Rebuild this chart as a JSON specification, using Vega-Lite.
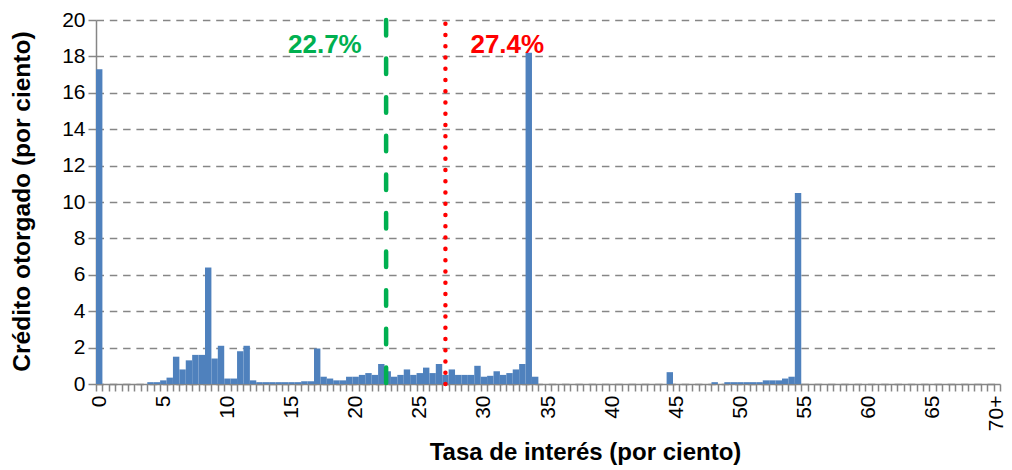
{
  "$schema": "https://vega.github.io/schema/vega-lite/v6.json",
  "width": 904,
  "height": 364,
  "autosize": {"type": "none"},
  "padding": {"left": 96, "top": 20, "right": 12, "bottom": 86},
  "background": "white",
  "config": {
    "view": {"stroke": null},
    "font": "Liberation Sans",
    "axisY": {
      "labelOverlap": false,
      "labelFontSize": 21,
      "labelColor": "#000000",
      "labelPadding": 3,
      "tickSize": 8,
      "tickColor": "#868686",
      "tickWidth": 1.5,
      "domainColor": "#868686",
      "domainWidth": 1.5,
      "grid": true,
      "gridColor": "#868686",
      "gridDash": [7.5, 5.8],
      "gridWidth": 1.5,
      "titleFontSize": 24.5,
      "titleFontWeight": "bold",
      "titleColor": "#000000",
      "titleX": -67,
      "titleY": 181,
      "titleAngle": 270,
      "titleAlign": "center",
      "titleBaseline": "alphabetic"
    }
  },
  "datasets": {
    "credito": [
      {"tasa": "0", "credito": 17.3}, {"tasa": "0.5", "credito": 0}, {"tasa": "1", "credito": 0}, {"tasa": "1.5", "credito": 0},
      {"tasa": "2", "credito": 0}, {"tasa": "2.5", "credito": 0}, {"tasa": "3", "credito": 0}, {"tasa": "3.5", "credito": 0},
      {"tasa": "4", "credito": 0.1}, {"tasa": "4.5", "credito": 0.1}, {"tasa": "5", "credito": 0.2}, {"tasa": "5.5", "credito": 0.35},
      {"tasa": "6", "credito": 1.5}, {"tasa": "6.5", "credito": 0.8}, {"tasa": "7", "credito": 1.3}, {"tasa": "7.5", "credito": 1.6},
      {"tasa": "8", "credito": 1.6}, {"tasa": "8.5", "credito": 6.4}, {"tasa": "9", "credito": 1.4}, {"tasa": "9.5", "credito": 2.1},
      {"tasa": "10", "credito": 0.3}, {"tasa": "10.5", "credito": 0.3}, {"tasa": "11", "credito": 1.8}, {"tasa": "11.5", "credito": 2.1},
      {"tasa": "12", "credito": 0.2}, {"tasa": "12.5", "credito": 0.1}, {"tasa": "13", "credito": 0.1}, {"tasa": "13.5", "credito": 0.1},
      {"tasa": "14", "credito": 0.1}, {"tasa": "14.5", "credito": 0.1}, {"tasa": "15", "credito": 0.1}, {"tasa": "15.5", "credito": 0.1},
      {"tasa": "16", "credito": 0.15}, {"tasa": "16.5", "credito": 0.15}, {"tasa": "17", "credito": 1.95}, {"tasa": "17.5", "credito": 0.4},
      {"tasa": "18", "credito": 0.3}, {"tasa": "18.5", "credito": 0.2}, {"tasa": "19", "credito": 0.2}, {"tasa": "19.5", "credito": 0.4},
      {"tasa": "20", "credito": 0.4}, {"tasa": "20.5", "credito": 0.5}, {"tasa": "21", "credito": 0.6}, {"tasa": "21.5", "credito": 0.5},
      {"tasa": "22", "credito": 1.1}, {"tasa": "22.5", "credito": 0.7}, {"tasa": "23", "credito": 0.4}, {"tasa": "23.5", "credito": 0.5},
      {"tasa": "24", "credito": 0.8}, {"tasa": "24.5", "credito": 0.5}, {"tasa": "25", "credito": 0.6}, {"tasa": "25.5", "credito": 0.9},
      {"tasa": "26", "credito": 0.6}, {"tasa": "26.5", "credito": 1.1}, {"tasa": "27", "credito": 0.5}, {"tasa": "27.5", "credito": 0.8},
      {"tasa": "28", "credito": 0.5}, {"tasa": "28.5", "credito": 0.5}, {"tasa": "29", "credito": 0.5}, {"tasa": "29.5", "credito": 1.0},
      {"tasa": "30", "credito": 0.4}, {"tasa": "30.5", "credito": 0.45}, {"tasa": "31", "credito": 0.7}, {"tasa": "31.5", "credito": 0.5},
      {"tasa": "32", "credito": 0.6}, {"tasa": "32.5", "credito": 0.8}, {"tasa": "33", "credito": 1.1}, {"tasa": "33.5", "credito": 18.2},
      {"tasa": "34", "credito": 0.4}, {"tasa": "34.5", "credito": 0}, {"tasa": "35", "credito": 0}, {"tasa": "35.5", "credito": 0},
      {"tasa": "36", "credito": 0}, {"tasa": "36.5", "credito": 0}, {"tasa": "37", "credito": 0}, {"tasa": "37.5", "credito": 0},
      {"tasa": "38", "credito": 0}, {"tasa": "38.5", "credito": 0}, {"tasa": "39", "credito": 0}, {"tasa": "39.5", "credito": 0},
      {"tasa": "40", "credito": 0}, {"tasa": "40.5", "credito": 0}, {"tasa": "41", "credito": 0}, {"tasa": "41.5", "credito": 0},
      {"tasa": "42", "credito": 0}, {"tasa": "42.5", "credito": 0}, {"tasa": "43", "credito": 0}, {"tasa": "43.5", "credito": 0},
      {"tasa": "44", "credito": 0}, {"tasa": "44.5", "credito": 0.65}, {"tasa": "45", "credito": 0}, {"tasa": "45.5", "credito": 0},
      {"tasa": "46", "credito": 0}, {"tasa": "46.5", "credito": 0}, {"tasa": "47", "credito": 0}, {"tasa": "47.5", "credito": 0},
      {"tasa": "48", "credito": 0.1}, {"tasa": "48.5", "credito": 0}, {"tasa": "49", "credito": 0.1}, {"tasa": "49.5", "credito": 0.1},
      {"tasa": "50", "credito": 0.1}, {"tasa": "50.5", "credito": 0.1}, {"tasa": "51", "credito": 0.1}, {"tasa": "51.5", "credito": 0.1},
      {"tasa": "52", "credito": 0.2}, {"tasa": "52.5", "credito": 0.2}, {"tasa": "53", "credito": 0.2}, {"tasa": "53.5", "credito": 0.3},
      {"tasa": "54", "credito": 0.4}, {"tasa": "54.5", "credito": 10.5}, {"tasa": "55", "credito": 0}, {"tasa": "55.5", "credito": 0},
      {"tasa": "56", "credito": 0}, {"tasa": "56.5", "credito": 0}, {"tasa": "57", "credito": 0}, {"tasa": "57.5", "credito": 0},
      {"tasa": "58", "credito": 0}, {"tasa": "58.5", "credito": 0}, {"tasa": "59", "credito": 0}, {"tasa": "59.5", "credito": 0},
      {"tasa": "60", "credito": 0}, {"tasa": "60.5", "credito": 0}, {"tasa": "61", "credito": 0}, {"tasa": "61.5", "credito": 0},
      {"tasa": "62", "credito": 0}, {"tasa": "62.5", "credito": 0}, {"tasa": "63", "credito": 0}, {"tasa": "63.5", "credito": 0},
      {"tasa": "64", "credito": 0}, {"tasa": "64.5", "credito": 0}, {"tasa": "65", "credito": 0}, {"tasa": "65.5", "credito": 0},
      {"tasa": "66", "credito": 0}, {"tasa": "66.5", "credito": 0}, {"tasa": "67", "credito": 0}, {"tasa": "67.5", "credito": 0},
      {"tasa": "68", "credito": 0}, {"tasa": "68.5", "credito": 0}, {"tasa": "69", "credito": 0}, {"tasa": "69.5", "credito": 0},
      {"tasa": "70+", "credito": 0}
    ]
  },
  "layer": [
    {
      "data": {"name": "credito"},
      "mark": {"type": "bar", "color": "#4F81BD"},
      "encoding": {
        "x": {
          "field": "tasa", "type": "nominal", "sort": null,
          "scale": {
            "paddingInner": 0, "paddingOuter": 0,
            "domain": ["0","0.5","1","1.5","2","2.5","3","3.5","4","4.5","5","5.5","6","6.5","7","7.5","8","8.5","9","9.5","10","10.5","11","11.5","12","12.5","13","13.5","14","14.5","15","15.5","16","16.5","17","17.5","18","18.5","19","19.5","20","20.5","21","21.5","22","22.5","23","23.5","24","24.5","25","25.5","26","26.5","27","27.5","28","28.5","29","29.5","30","30.5","31","31.5","32","32.5","33","33.5","34","34.5","35","35.5","36","36.5","37","37.5","38","38.5","39","39.5","40","40.5","41","41.5","42","42.5","43","43.5","44","44.5","45","45.5","46","46.5","47","47.5","48","48.5","49","49.5","50","50.5","51","51.5","52","52.5","53","53.5","54","54.5","55","55.5","56","56.5","57","57.5","58","58.5","59","59.5","60","60.5","61","61.5","62","62.5","63","63.5","64","64.5","65","65.5","66","66.5","67","67.5","68","68.5","69","69.5","70+"]
          },
          "axis": {
            "title": "Tasa de interés  (por ciento)",
            "labelExpr": "indexof(['0','5','10','15','20','25','30','35','40','45','50','55','60','65','70+'], datum.value) >= 0 ? datum.value : ''",
            "labelAngle": -90,
            "labelOverlap": false,
            "labelFontSize": 21,
            "labelColor": "#000000",
            "labelPadding": 4,
            "tickBand": "extent",
            "tickSize": 7,
            "tickColor": "#868686",
            "tickWidth": 1.5,
            "domainColor": "#868686",
            "domainWidth": 1.5,
            "grid": false,
            "titleFontSize": 24,
            "titleFontWeight": "bold",
            "titleColor": "#000000",
            "titleX": 489,
            "titleY": 75,
            "titleAlign": "center",
            "titleBaseline": "alphabetic"
          }
        },
        "y": {
          "field": "credito", "type": "quantitative",
          "scale": {"domain": [0, 20], "nice": false},
          "axis": {"title": "Crédito otorgado  (por ciento)", "values": [0, 2, 4, 6, 8, 10, 12, 14, 16, 18, 20]}
        }
      }
    },
    {
      "data": {"values": [{"tasa": "22.5", "etiqueta": "22.7%"}]},
      "mark": {"type": "rule", "color": "#00B050", "strokeWidth": 4.5, "strokeDash": [15.5, 23.1], "strokeCap": "round"},
      "encoding": {
        "x": {"field": "tasa", "type": "nominal", "bandPosition": 0.25},
        "y": {"datum": 20, "axis": {"title": "Crédito otorgado  (por ciento)", "values": [0, 2, 4, 6, 8, 10, 12, 14, 16, 18, 20]}},
        "y2": {"datum": 0}
      }
    },
    {
      "data": {"values": [{"tasa": "27", "etiqueta": "27.4%"}]},
      "mark": {"type": "rule", "color": "#FF0000", "strokeWidth": 4.5, "strokeDash": [0.01, 11.25], "strokeCap": "round"},
      "encoding": {
        "x": {"field": "tasa", "type": "nominal"},
        "y": {"datum": 0, "axis": {"title": "Crédito otorgado  (por ciento)", "values": [0, 2, 4, 6, 8, 10, 12, 14, 16, 18, 20]}},
        "y2": {"datum": 20}
      }
    },
    {
      "data": {"values": [{"tasa": "22.5", "etiqueta": "22.7%"}]},
      "mark": {"type": "text", "color": "#00B050", "fontSize": 26, "fontWeight": "bold", "align": "right", "baseline": "alphabetic", "dx": -26},
      "encoding": {
        "x": {"field": "tasa", "type": "nominal"},
        "y": {"datum": 18.2, "axis": {"title": "Crédito otorgado  (por ciento)", "values": [0, 2, 4, 6, 8, 10, 12, 14, 16, 18, 20]}},
        "text": {"field": "etiqueta"}
      }
    },
    {
      "data": {"values": [{"tasa": "27", "etiqueta": "27.4%"}]},
      "mark": {"type": "text", "color": "#FF0000", "fontSize": 26, "fontWeight": "bold", "align": "left", "baseline": "alphabetic", "dx": 25},
      "encoding": {
        "x": {"field": "tasa", "type": "nominal"},
        "y": {"datum": 18.2, "axis": {"title": "Crédito otorgado  (por ciento)", "values": [0, 2, 4, 6, 8, 10, 12, 14, 16, 18, 20]}},
        "text": {"field": "etiqueta"}
      }
    }
  ]
}
